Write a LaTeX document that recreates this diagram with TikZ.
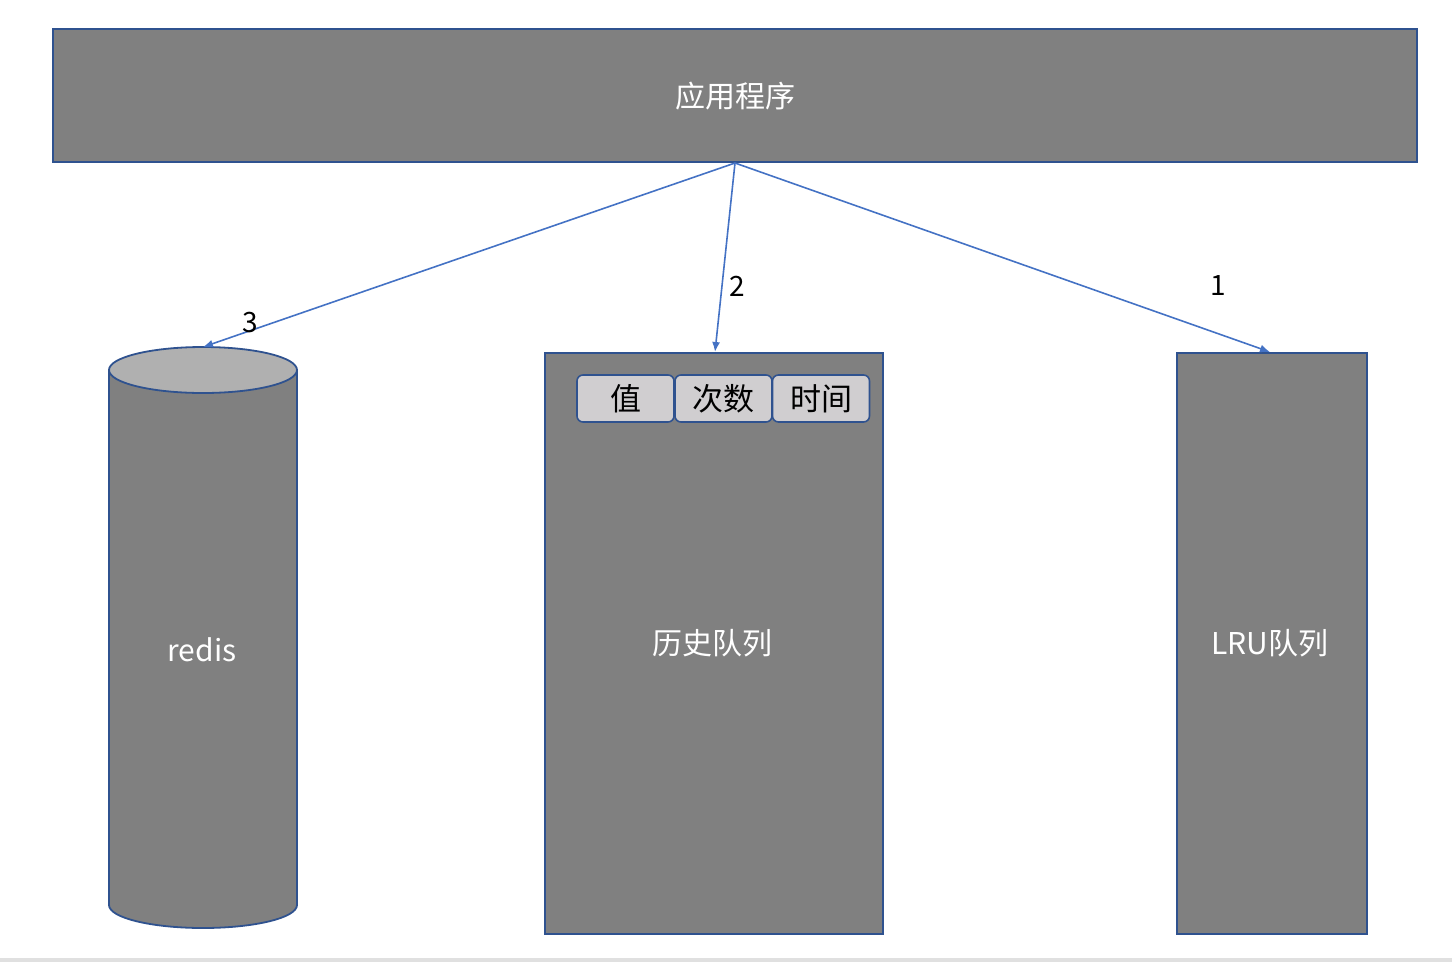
\documentclass[tikz,border=0pt]{standalone}
\usepackage{fontspec}
\setmainfont{Noto Sans CJK SC}
\usetikzlibrary{arrows.meta}
\definecolor{boxfill}{HTML}{808080}
\definecolor{boxline}{HTML}{2F528F}
\definecolor{arrowblue}{HTML}{4472C4}
\definecolor{cellfill}{HTML}{D0CED0}
\definecolor{topfill}{HTML}{B0B0B0}
\definecolor{stripgray}{HTML}{E0E0E0}
\tikzset{
  graybox/.style={draw=boxline, fill=boxfill, line width=1.8pt},
  cell/.style={draw=boxline, fill=cellfill, line width=1.6pt, rounded corners=6pt, minimum width=97pt, minimum height=47pt, inner sep=0pt, font=\fontsize{31}{36}\selectfont},
  conn/.style={draw=arrowblue, line width=1.6pt, -{Latex[length=10pt,width=8pt]}},
  whitetext/.style={text=white, font=\fontsize{30}{36}\selectfont},
  numlabel/.style={font=\fontsize{28}{32}\selectfont, text=black}
}
\begin{document}
\begin{tikzpicture}[x=1pt,y=-1pt]
\useasboundingbox (0,0) rectangle (1452,962);
\fill[stripgray] (0,958) rectangle (1452,962);
% top bar
\draw[graybox] (53,29) rectangle (1417,162);
\node[whitetext] (app) at (735,96) {应用程序};
\coordinate (appbot) at (735,163);
% cylinder
\draw[graybox] (109,370) -- (109,905) arc[start angle=180, end angle=0, x radius=94, y radius=23] -- (297,370);
\draw[graybox, fill=topfill] (203,370) ellipse[x radius=94, y radius=23];
\node[whitetext] (redis) at (202,650) {redis};
\coordinate (redistop) at (203,347);
% history
\draw[graybox] (545,353) rectangle (883,934);
\node[whitetext] (hist) at (712,643) {历史队列};
\coordinate (histtop) at (715,352);
\node[cell] (c1) at (625.5,398.5) {值};
\node[cell] (c2) at (723.5,398.5) {次数};
\node[cell] (c3) at (821,398.5) {时间};
% LRU
\draw[graybox] (1177,353) rectangle (1367,934);
\node[whitetext] (lru) at (1270,643) {LRU队列};
\coordinate (lrutop) at (1270,352);
% arrows
\draw[conn] (appbot) -- (redistop);
\draw[conn] (appbot) -- (histtop);
\draw[conn] (appbot) -- (lrutop);
\node[numlabel] (n3) at (250,323) {3};
\node[numlabel] (n2) at (737,286) {2};
\node[numlabel] (n1) at (1218,286) {1};
\end{tikzpicture}
\end{document}
